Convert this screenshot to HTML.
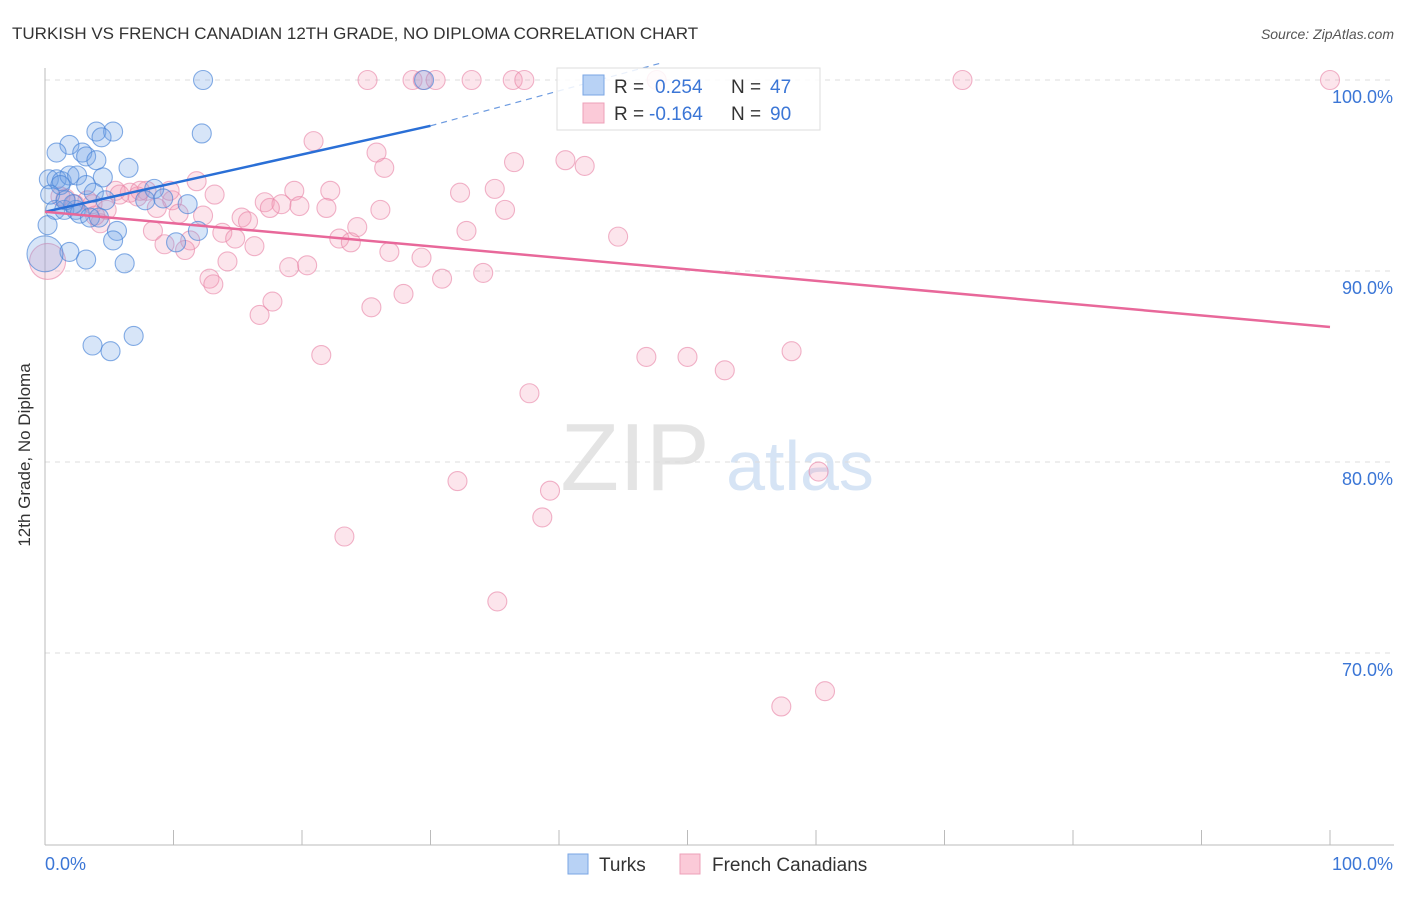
<!DOCTYPE html>
<html><head><meta charset="utf-8"><style>
body{margin:0;background:#fff;font-family:"Liberation Sans",sans-serif;}
svg text{font-family:"Liberation Sans",sans-serif;}
</style></head><body>
<svg id="chart" width="1406" height="892" xmlns="http://www.w3.org/2000/svg">
<text x="12" y="39" font-size="17" fill="#333">TURKISH VS FRENCH CANADIAN 12TH GRADE, NO DIPLOMA CORRELATION CHART</text>
<text x="1394" y="39" font-size="14" fill="#555" text-anchor="end" font-style="italic">Source: ZipAtlas.com</text>
<text x="30" y="455" font-size="17" fill="#333" text-anchor="middle" transform="rotate(-90 30 455)">12th Grade, No Diploma</text>
<g><text x="635" y="490" font-size="96" fill="#e4e4e4" font-family="Liberation Serif" text-anchor="middle">ZIP</text><text x="800" y="490" font-size="70" fill="#d6e4f5" text-anchor="middle">atlas</text></g>
<g id="grid"></g><g id="axes"></g><g id="pts"></g><g id="lines"></g>
<g>
<rect x="557" y="68" width="263" height="62" fill="#fff" fill-opacity="0.85" stroke="#ddd"/>
<rect x="583" y="75" width="21" height="20" fill="#b8d2f5" stroke="#7aa6e4"/>
<rect x="583" y="103" width="21" height="20" fill="#fbcad8" stroke="#eea0b8"/>
<text x="614" y="93" font-size="19" fill="#333">R =</text><text x="655" y="93" font-size="19" fill="#3b76d6">0.254</text>
<text x="731" y="93" font-size="19" fill="#333">N =</text><text x="770" y="93" font-size="19" fill="#3b76d6">47</text>
<text x="614" y="120" font-size="19" fill="#333">R =</text><text x="649" y="120" font-size="19" fill="#3b76d6">-0.164</text>
<text x="731" y="120" font-size="19" fill="#333">N =</text><text x="770" y="120" font-size="19" fill="#3b76d6">90</text>
</g>
<g>
<rect x="568" y="854" width="20" height="20" fill="#b8d2f5" stroke="#7aa6e4"/>
<text x="599" y="871" font-size="19" fill="#333">Turks</text>
<rect x="680" y="854" width="20" height="20" fill="#fbcad8" stroke="#eea0b8"/>
<text x="712" y="871" font-size="19" fill="#333">French Canadians</text>
</g>
</svg>
<script>
const blueX=[12.3,29.5,4.0,5.3,12.2,1.9,4.4,0.9,2.9,3.2,4.0,6.5,0.3,0.9,1.3,1.9,2.5,4.5,3.2,8.5,3.8,7.8,9.2,11.1,0.8,1.5,2.4,2.7,3.5,4.2,0.2,5.6,11.9,5.3,10.2,1.9,3.2,6.2,0,3.7,5.1,6.9,1.2,2.2,4.7,0.4,1.6];
const blueY=[100,100,97.3,97.3,97.2,96.6,97.0,96.2,96.2,96.0,95.8,95.4,94.8,94.8,94.7,95.0,95.0,94.9,94.5,94.3,94.1,93.7,93.8,93.5,93.2,93.2,93.2,93.0,92.8,92.8,92.4,92.1,92.1,91.6,91.5,91.0,90.6,90.4,90.9,86.1,85.8,86.6,94.5,93.5,93.7,94.0,93.7];
const pinkX=[25.1,28.6,29.4,30.4,33.2,36.4,37.3,47.6,71.4,100,20.9,25.8,26.4,36.5,40.5,42.0,11.8,19.4,22.2,32.3,35.0,5.5,6.6,7.9,5.8,7.2,9.9,1.6,3.7,4.8,8.7,10.4,12.3,17.1,18.4,19.8,21.9,35.8,15.3,15.8,4.3,8.4,13.8,14.8,11.3,9.3,22.9,23.8,24.3,32.8,44.6,16.3,10.9,14.2,19.0,20.4,26.8,29.3,34.1,12.8,13.1,30.9,17.7,16.7,27.9,25.4,21.5,46.8,50.0,58.1,52.9,37.7,32.1,39.3,60.2,38.7,23.3,35.2,60.7,57.3,0.2,1.2,2.3,3.3,7.4,13.2,17.5,26.1,9.7,3.9];
const pinkY=[100,100,100,100,100,100,100,100,100,100,96.8,96.2,95.4,95.7,95.8,95.5,94.7,94.2,94.2,94.1,94.3,94.2,94.1,94.2,94.0,93.9,93.7,93.8,93.5,93.2,93.3,93.0,92.9,93.6,93.5,93.4,93.3,93.2,92.8,92.6,92.5,92.1,92.0,91.7,91.6,91.4,91.7,91.5,92.3,92.1,91.8,91.3,91.1,90.5,90.2,90.3,91.0,90.7,89.9,89.6,89.3,89.6,88.4,87.7,88.8,88.1,85.6,85.5,85.5,85.8,84.8,83.6,79.0,78.5,79.5,77.1,76.1,72.7,68.0,67.2,90.5,93.9,93.5,93.7,94.2,94.0,93.3,93.2,94.2,92.9];
const yTicks=[100,90,80,70];
const yTickLabels=["100.0%","90.0%","80.0%","70.0%"];
const blueTrend=[[0,93.1],[30,97.6],[48,100.9]];
const pinkTrend=[[0,93.1],[100,87.07]];
const NS='http://www.w3.org/2000/svg';
const sx=v=>45+v*12.85, sy=v=>80+(100-v)*19.1;
function mk(t,a,p){const e=document.createElementNS(NS,t);for(const k in a)e.setAttribute(k,a[k]);p.appendChild(e);return e;}
const grid=document.getElementById('grid'),axes=document.getElementById('axes'),pts=document.getElementById('pts'),lines=document.getElementById('lines');
yTicks.forEach((t,i)=>{
 const l=mk('line',{x1:45,x2:1394,y1:sy(t),y2:sy(t),stroke:'#ddd','stroke-dasharray':'5,5'},grid);
 
 
 const tx=mk('text',{x:1393,y:sy(t)+23,'font-size':18,fill:'#3b76d6','text-anchor':'end'},axes);tx.textContent=yTickLabels[i];
 
 
});
const ax=mk('line',{x1:45,x2:1394,y1:845,y2:845,stroke:'#bbb'},axes);


const ay=mk('line',{x1:45,x2:45,y1:68,y2:845,stroke:'#bbb'},axes);


for(let i=0;i<=10;i++){const tk=mk('line',{x1:sx(i*10),x2:sx(i*10),y1:830,y2:845,stroke:'#bbb'},axes);
 
 }
const x0=mk('text',{x:45,y:870,'font-size':18,fill:'#3b76d6'},axes);x0.textContent='0.0%';


const x1=mk('text',{x:1393,y:870,'font-size':18,fill:'#3b76d6','text-anchor':'end'},axes);x1.textContent='100.0%';


function dots(X,Y,fill,stroke,name){X.forEach((x,i)=>{const r=(x===0||(x===0.2&&Y[i]===90.5))?18:9.5;
 const c=mk('circle',{cx:sx(x),cy:sy(Y[i]),r:r,fill:fill,stroke:stroke,'stroke-width':1.1},pts);
 
 });}
dots(pinkX,pinkY,'rgba(242,150,178,0.25)','rgba(232,130,165,0.6)','french-canadian-point');
dots(blueX,blueY,'rgba(110,160,230,0.28)','rgba(70,130,215,0.65)','turks-point');
const bl=mk('line',{x1:sx(blueTrend[0][0]),y1:sy(blueTrend[0][1]),x2:sx(blueTrend[1][0]),y2:sy(blueTrend[1][1]),stroke:'#2a6fd6','stroke-width':2.5},lines);


const bd=mk('line',{x1:sx(blueTrend[1][0]),y1:sy(blueTrend[1][1]),x2:sx(blueTrend[2][0]),y2:sy(blueTrend[2][1]),stroke:'#6d9be0','stroke-width':1.2,'stroke-dasharray':'6,5'},lines);


const pl=mk('line',{x1:sx(pinkTrend[0][0]),y1:sy(pinkTrend[0][1]),x2:sx(pinkTrend[1][0]),y2:sy(pinkTrend[1][1]),stroke:'#e8689a','stroke-width':2.5},lines);


</script>
</body></html>
